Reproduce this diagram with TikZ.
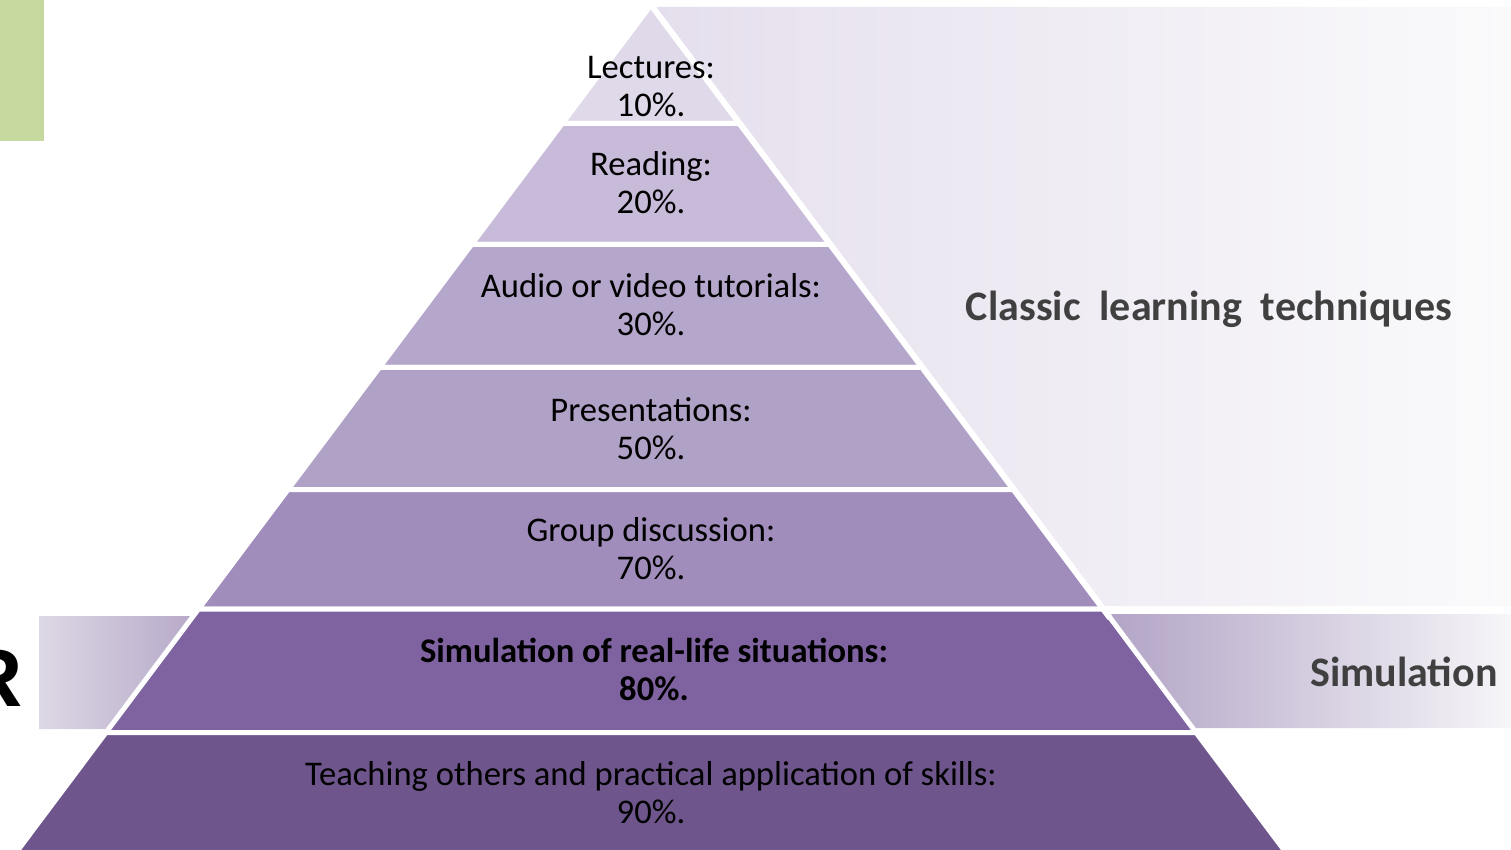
\documentclass[tikz,border=0pt]{standalone}
\usepackage{fontspec}
\setmainfont{Carlito}
\newfontfamily\bigsans{Liberation Sans}
\usepackage{xcolor}

\definecolor{leafgreen}{HTML}{C5D89D}
\definecolor{lyrA}{HTML}{E0D9EA}
\definecolor{lyrB}{HTML}{C8BAD9}
\definecolor{lyrC}{HTML}{B5A6CB}
\definecolor{lyrD}{HTML}{B0A1C6}
\definecolor{lyrE}{HTML}{A18DBC}
\definecolor{lyrF}{HTML}{7F62A0}
\definecolor{lyrG}{HTML}{6E558C}
\definecolor{bandlight}{HTML}{E5DFED}
\definecolor{bandwhite}{HTML}{FAFAFB}
\definecolor{simdark}{HTML}{B2A4C6}
\definecolor{simlight}{HTML}{DDD8E5}
\definecolor{labelgray}{HTML}{404040}

\begin{document}
\begin{tikzpicture}[x=0.5pt,y=-0.5pt]
\tikzset{layer/.style={draw=white,line width=2.5pt,line join=miter}}
\tikzset{lyrtext/.style={align=center,font=\fontsize{17.3}{19}\selectfont,text=black,inner sep=0pt}}
\tikzset{sidetext/.style={font=\fontsize{21}{23}\selectfont\bfseries,text=labelgray,inner sep=0pt}}

\useasboundingbox (0,0) rectangle (1511,850);
\clip (0,0) rectangle (1511,850);

% corner bar and cut-off letter
\fill[leafgreen] (0,0) rectangle (44,141);
\node[anchor=base east,inner sep=0pt,font=\bigsans\fontsize{41}{41}\selectfont\bfseries] (cutR) at (23,706) {R};

% side bands
\shade[left color=bandlight,right color=bandwhite] (651,7) -- (1511,7) -- (1511,606) -- (1104,606) -- cycle;
\shade[left color=simlight,right color=simdark!90!simlight] (39,616) -- (194,616) -- (109,729) -- (39,729) -- cycle;
\shade[left color=simdark,right color=bandwhite!95!simdark] (1108,614) -- (1511,614) -- (1511,728) -- (1193,728) -- cycle;

% pyramid layers
\foreach \t/\b/\c in {5/123.5/lyrA,123.5/244.5/lyrB,244.5/367.5/lyrC,367.5/489.5/lyrD,489.5/609/lyrE,609/732.5/lyrF,732.5/870/lyrG}
  \filldraw[layer,fill=\c] ({651-(\t-5)*0.7491},\t) -- ({651+(\t-5)*0.7491},\t) -- ({651+(\b-5)*0.7491},\b) -- ({651-(\b-5)*0.7491},\b) -- cycle;
\draw[white,line width=3pt] (651,5) -- (1110,618);

% texts
\node[lyrtext] (lectures) at (651,87) {Lectures:\\10\%.};
\node[lyrtext] (reading) at (651,183) {Reading:\\20\%.};
\node[lyrtext] (audio) at (651,305) {Audio or video tutorials:\\30\%.};
\node[lyrtext] (present) at (651,429) {Presentations:\\50\%.};
\node[lyrtext] (group) at (651,549) {Group discussion:\\70\%.};
\node[lyrtext,font=\fontsize{17.3}{19}\selectfont\bfseries] (simul) at (654,669) {Simulation of real-life situations:\\80\%.};
\node[lyrtext] (teach) at (651,793) {Teaching others and practical application of skills:\\90\%.};

\node[sidetext] (classic) at (1209,309) {Classic\hspace{0.45em}learning\hspace{0.45em}techniques};
\node[sidetext] (simband) at (1404,672) {Simulation};

\end{tikzpicture}
\end{document}
